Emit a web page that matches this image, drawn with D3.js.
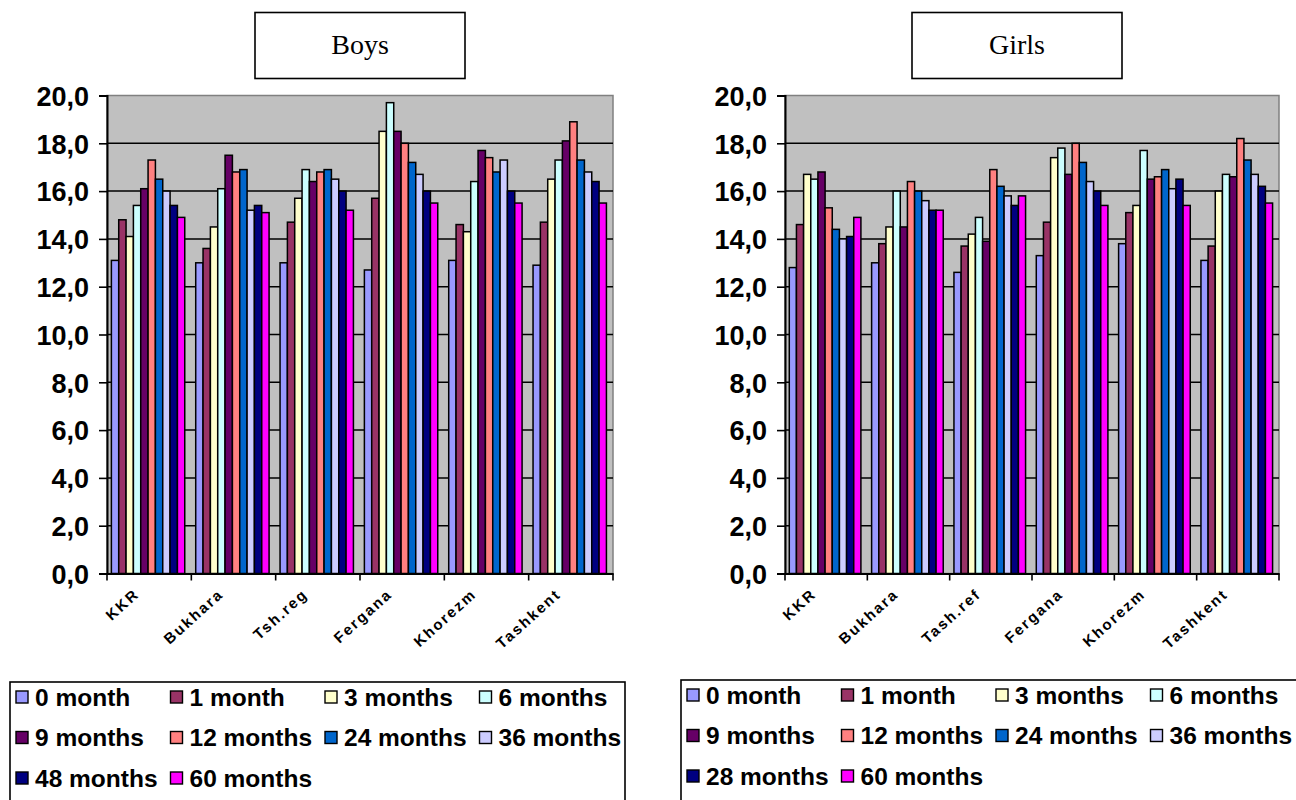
<!DOCTYPE html>
<html>
<head>
<meta charset="utf-8">
<script src="https://cdn.jsdelivr.net/npm/d3@7"></script>
<style>
  body { margin: 0; background: #ffffff; }
  svg { display: block; }
</style>
</head>
<body>
<svg id="chart" width="1296" height="800"></svg>
<script>
// Regions (x categories)
const regionsBoys  = ["KKR", "Bukhara", "Tsh.reg", "Fergana", "Khorezm", "Tashkent"];
const regionsGirls = ["KKR", "Bukhara", "Tash.ref", "Fergana", "Khorezm", "Tashkent"];

// Age series (legend entries)
const agesBoys  = ["0 month", "1 month", "3 months", "6 months", "9 months", "12 months", "24 months", "36 months", "48 months", "60 months"];
const agesGirls = ["0 month", "1 month", "3 months", "6 months", "9 months", "12 months", "24 months", "36 months", "28 months", "60 months"];

// Series colours, one per age
const ageColors = ["#9999FF", "#993366", "#FFFFCC", "#CCFFFF", "#660066", "#FF8080", "#0066CC", "#CCCCFF", "#000080", "#FF00FF"];

// Y axis ticks
const yTicks = [0, 2, 4, 6, 8, 10, 12, 14, 16, 18, 20];

// Boys values per region, in age order
const boysKKR      = [13.1, 14.8, 14.1, 15.4, 16.1, 17.3, 16.5, 16.0, 15.4, 14.9];
const boysBukhara  = [13.0, 13.6, 14.5, 16.1, 17.5, 16.8, 16.9, 15.2, 15.4, 15.1];
const boysTshReg   = [13.0, 14.7, 15.7, 16.9, 16.4, 16.8, 16.9, 16.5, 16.0, 15.2];
const boysFergana  = [12.7, 15.7, 18.5, 19.7, 18.5, 18.0, 17.2, 16.7, 16.0, 15.5];
const boysKhorezm  = [13.1, 14.6, 14.3, 16.4, 17.7, 17.4, 16.8, 17.3, 16.0, 15.5];
const boysTashkent = [12.9, 14.7, 16.5, 17.3, 18.1, 18.9, 17.3, 16.8, 16.4, 15.5];

// Girls values per region, in age order
const girlsKKR      = [12.8, 14.6, 16.7, 16.5, 16.8, 15.3, 14.4, 14.0, 14.1, 14.9];
const girlsBukhara  = [13.0, 13.8, 14.5, 16.0, 14.5, 16.4, 16.0, 15.6, 15.2, 15.2];
const girlsTashRef  = [12.6, 13.7, 14.2, 14.9, 13.9, 16.9, 16.2, 15.8, 15.4, 15.8];
const girlsFergana  = [13.3, 14.7, 17.4, 17.8, 16.7, 18.0, 17.2, 16.4, 16.0, 15.4];
const girlsKhorezm  = [13.8, 15.1, 15.4, 17.7, 16.5, 16.6, 16.9, 16.1, 16.5, 15.4];
const girlsTashkent = [13.1, 13.7, 16.0, 16.7, 16.6, 18.2, 17.3, 16.7, 16.2, 15.5];

const boysValues  = [boysKKR, boysBukhara, boysTshReg, boysFergana, boysKhorezm, boysTashkent];
const girlsValues = [girlsKKR, girlsBukhara, girlsTashRef, girlsFergana, girlsKhorezm, girlsTashkent];

const svg = d3.select("#chart");
const commaFmt = d3.formatLocale({ decimal: ",", thousands: " ", grouping: [3], currency: ["", ""] }).format(".1f");

function drawPanel(cfg) {
  const g = svg.append("g");

  const x0 = d3.scaleBand().domain(cfg.regions).range([cfg.left, cfg.right]);
  const bw = x0.bandwidth();
  const x1 = d3.scaleBand().domain(cfg.ages).range([bw * 0.052, bw * 0.922]);
  const y = d3.scaleLinear().domain([0, 20]).range([cfg.bottom, cfg.top]);

  // Title box
  g.append("rect")
    .attr("x", cfg.titleX).attr("y", 12.5)
    .attr("width", 210).attr("height", 66)
    .attr("fill", "#ffffff").attr("stroke", "#000").attr("stroke-width", 1.6);
  g.append("text")
    .attr("x", cfg.titleX + 105).attr("y", 54)
    .attr("text-anchor", "middle")
    .attr("font-family", "'Liberation Serif', 'Times New Roman', serif")
    .attr("font-size", 28)
    .attr("fill", "#000")
    .text(cfg.title);

  // Plot area
  g.append("rect")
    .attr("x", cfg.left).attr("y", y(20))
    .attr("width", cfg.right - cfg.left).attr("height", y(0) - y(20))
    .attr("fill", "#C0C0C0").attr("stroke", "#808080").attr("stroke-width", 1.5);

  // Horizontal gridlines
  g.append("g").selectAll("line")
    .data(yTicks.filter(t => t > 0 && t < 20))
    .join("line")
    .attr("x1", cfg.left).attr("x2", cfg.right)
    .attr("y1", d => y(d)).attr("y2", d => y(d))
    .attr("stroke", "#000").attr("stroke-width", 1.5);

  // Clustered bars
  const groups = g.append("g").selectAll("g")
    .data(cfg.regions.map((r, i) => ({ region: r, vals: cfg.values[i] })))
    .join("g")
    .attr("transform", d => `translate(${x0(d.region)},0)`);
  groups.selectAll("rect")
    .data(d => d.vals.map((v, j) => ({ age: cfg.ages[j], v, color: ageColors[j] })))
    .join("rect")
    .attr("x", d => x1(d.age))
    .attr("width", x1.bandwidth())
    .attr("y", d => y(d.v))
    .attr("height", d => y(0) - y(d.v))
    .attr("fill", d => d.color)
    .attr("stroke", "#000").attr("stroke-width", 1.5);

  // Y axis
  const yAxis = g.append("g")
    .attr("transform", `translate(${cfg.left},0)`)
    .call(d3.axisLeft(y).tickValues(yTicks).tickFormat(commaFmt).tickSize(8).tickPadding(10));
  yAxis.select(".domain").attr("stroke", "#000").attr("stroke-width", 2);
  yAxis.selectAll(".tick line").attr("stroke", "#000").attr("stroke-width", 1.6);
  yAxis.selectAll(".tick text")
    .attr("font-family", "'Liberation Sans', Arial, sans-serif")
    .attr("font-size", 27)
    .attr("font-weight", "bold")
    .attr("fill", "#000")
    .attr("dy", "0.36em");

  // X axis: baseline with ticks at category boundaries
  const xAxis = g.append("g")
    .attr("transform", `translate(0,${cfg.bottom})`)
    .call(d3.axisBottom(x0).tickSize(0).tickPadding(0));
  xAxis.select(".domain").attr("stroke", "#000").attr("stroke-width", 2);
  xAxis.selectAll(".tick text")
    .attr("font-family", "'Liberation Sans', Arial, sans-serif")
    .attr("font-size", 15)
    .attr("font-weight", "bold")
    .attr("letter-spacing", 2)
    .attr("fill", "#000")
    .attr("text-anchor", "end")
    .attr("dy", 0)
    .attr("transform", "translate(-9,22) rotate(-42)");
  const bounds = cfg.regions.map(r => x0(r)).concat([cfg.right]);
  xAxis.append("g").selectAll("line")
    .data(bounds)
    .join("line")
    .attr("x1", d => d).attr("x2", d => d)
    .attr("y1", 0).attr("y2", 7)
    .attr("stroke", "#000").attr("stroke-width", 1.6);

  // Legend
  const lg = g.append("g");
  lg.append("rect")
    .attr("x", cfg.legendX).attr("y", cfg.legendY)
    .attr("width", cfg.legendW).attr("height", 160)
    .attr("fill", "#ffffff").attr("stroke", "#000").attr("stroke-width", 1.6);
  const items = lg.selectAll("g.item")
    .data(cfg.ages.map((a, i) => ({ a, i })))
    .join("g")
    .attr("class", "item")
    .attr("transform", d => `translate(${cfg.legendX + 6 + (d.i % 4) * 154.5},${cfg.legendY + 15 + Math.floor(d.i / 4) * 40.5})`);
  items.append("rect")
    .attr("x", 0).attr("y", -6)
    .attr("width", 12).attr("height", 12)
    .attr("fill", d => ageColors[d.i])
    .attr("stroke", "#000").attr("stroke-width", 1.4);
  items.append("text")
    .attr("x", 19).attr("y", 0).attr("dy", "0.36em")
    .attr("font-family", "'Liberation Sans', Arial, sans-serif")
    .attr("font-size", 24.5)
    .attr("font-weight", "bold")
    .attr("fill", "#000")
    .text(d => d.a);
}

drawPanel({
  title: "Boys", titleX: 255,
  regions: regionsBoys, ages: agesBoys, values: boysValues,
  left: 107, right: 613, top: 95.5, bottom: 573.5,
  legendX: 10, legendY: 682, legendW: 615
});

drawPanel({
  title: "Girls", titleX: 912,
  regions: regionsGirls, ages: agesGirls, values: girlsValues,
  left: 785, right: 1279, top: 95.5, bottom: 573.5,
  legendX: 681, legendY: 680, legendW: 630
});
</script>
</body>
</html>
